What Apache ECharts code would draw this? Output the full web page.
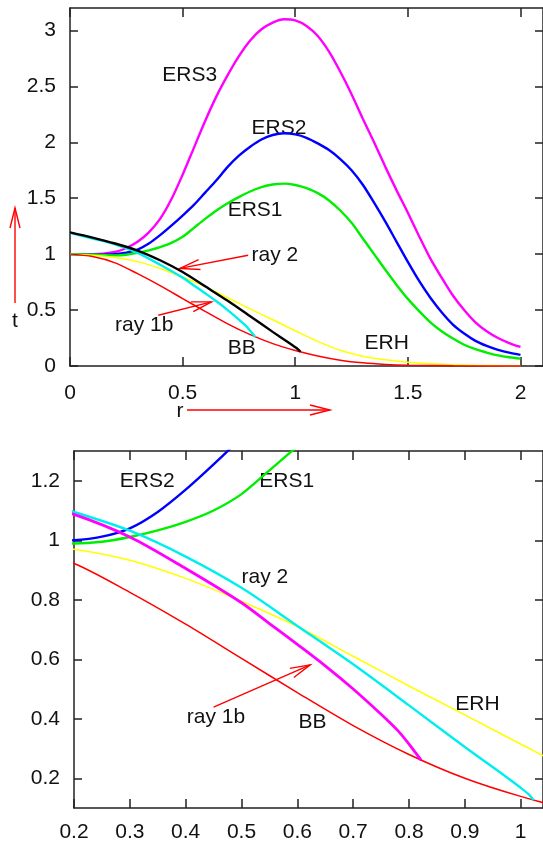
<!DOCTYPE html>
<html><head><meta charset="utf-8">
<script src="https://cdn.jsdelivr.net/npm/echarts@6/dist/echarts.min.js"></script>
<style>html,body{margin:0;padding:0;background:#fff}#c{width:543px;height:844px}</style>
</head><body><div id="c"></div>
<script>
// ---- data (r, t) ----
const ers3 = [[0,1.0],[0.1,1.0],[0.2,1.02],[0.25,1.055],[0.3,1.11],[0.35,1.195],[0.4,1.315],[0.45,1.49],[0.5,1.71],[0.55,1.95],[0.6,2.19],[0.65,2.41],[0.7,2.6],[0.75,2.77],[0.8,2.91],[0.85,3.01],[0.9,3.07],[0.95,3.1],[1.0,3.09],[1.05,3.04],[1.1,2.95],[1.15,2.81],[1.2,2.63],[1.25,2.43],[1.3,2.21],[1.35,2.0],[1.4,1.78],[1.45,1.57],[1.5,1.37],[1.55,1.16],[1.6,0.96],[1.65,0.79],[1.7,0.63],[1.75,0.5],[1.8,0.39],[1.85,0.31],[1.9,0.25],[1.95,0.205],[2.0,0.17]];
const ers2 = [[0,1.0],[0.1,0.995],[0.2,1.0],[0.25,1.012],[0.3,1.04],[0.35,1.095],[0.4,1.17],[0.45,1.255],[0.5,1.345],[0.55,1.44],[0.6,1.55],[0.65,1.66],[0.7,1.78],[0.75,1.88],[0.8,1.96],[0.85,2.025],[0.9,2.065],[0.95,2.08],[1.0,2.07],[1.05,2.04],[1.1,1.99],[1.15,1.93],[1.2,1.85],[1.25,1.75],[1.3,1.62],[1.35,1.46],[1.4,1.29],[1.45,1.11],[1.5,0.93],[1.55,0.76],[1.6,0.61],[1.65,0.48],[1.7,0.37],[1.75,0.29],[1.8,0.225],[1.85,0.18],[1.9,0.145],[1.95,0.12],[2.0,0.10]];
const ers1 = [[0,1.0],[0.1,0.995],[0.2,0.989],[0.25,0.995],[0.3,1.011],[0.35,1.033],[0.4,1.062],[0.45,1.10],[0.5,1.155],[0.55,1.235],[0.6,1.315],[0.65,1.39],[0.7,1.455],[0.75,1.51],[0.8,1.56],[0.85,1.598],[0.9,1.622],[0.95,1.63],[1.0,1.618],[1.05,1.59],[1.1,1.545],[1.15,1.48],[1.2,1.39],[1.25,1.28],[1.3,1.14],[1.35,1.0],[1.4,0.86],[1.45,0.725],[1.5,0.6],[1.55,0.49],[1.6,0.39],[1.65,0.31],[1.7,0.245],[1.75,0.19],[1.8,0.15],[1.85,0.12],[1.9,0.095],[1.95,0.078],[2.0,0.066]];
const erh = [[0,1.0],[0.1,0.99],[0.2,0.97],[0.3,0.933],[0.4,0.872],[0.5,0.795],[0.6,0.71],[0.7,0.61],[0.8,0.51],[0.9,0.413],[1.0,0.315],[1.1,0.22],[1.2,0.14],[1.3,0.088],[1.4,0.055],[1.5,0.034],[1.6,0.02],[1.7,0.012],[1.8,0.007],[1.9,0.004],[2.0,0.002]];
const bb = [[0,1.0],[0.1,0.978],[0.2,0.922],[0.3,0.825],[0.4,0.718],[0.5,0.603],[0.6,0.488],[0.7,0.377],[0.8,0.28],[0.9,0.2],[1.0,0.139],[1.1,0.09],[1.2,0.052],[1.3,0.028],[1.4,0.014],[1.5,0.007],[1.7,0.002],[2.0,0.0]];
const ray2 = [[0,1.195],[0.1,1.148],[0.2,1.095],[0.3,1.032],[0.4,0.945],[0.5,0.84],[0.6,0.712],[0.7,0.583],[0.8,0.445],[0.9,0.305],[0.97,0.21],[1.0,0.168],[1.015,0.145],[1.023,0.127]];
const ray1b = [[0,1.19],[0.1,1.14],[0.2,1.087],[0.3,1.011],[0.4,0.905],[0.5,0.79],[0.55,0.72],[0.6,0.65],[0.65,0.578],[0.7,0.5],[0.75,0.415],[0.78,0.36],[0.8,0.315],[0.812,0.285],[0.822,0.26]];

// tick values
const rTicksTop = [0,0.5,1,1.5,2];
const tTicksTop = [0,0.5,1,1.5,2,2.5,3];
const rTicksZoom = [0.2,0.3,0.4,0.5,0.6,0.7,0.8,0.9,1];
const tTicksZoom = [0.2,0.4,0.6,0.8,1,1.2];

const FONT = '"Liberation Sans", Arial, Helvetica, sans-serif';
const FS = 21;
const AX = '#222';

function mkX(grid, min, max, ticks, pos, showLabel, margin) {
  return {
    type:'value', gridIndex:grid, min:min, max:max, position:pos,
    axisLine:{show:true, onZero:false, lineStyle:{color:AX, width:1.5}},
    axisTick:{show:true, inside:true, length:9, customValues:ticks, lineStyle:{color:AX, width:1.5}},
    axisLabel:{show:showLabel, customValues:ticks, margin:margin, color:'#111', fontSize:FS, fontFamily:FONT},
    splitLine:{show:false}
  };
}
function mkY(grid, min, max, ticks, pos, showLabel) {
  return {
    type:'value', gridIndex:grid, min:min, max:max, position:pos,
    axisLine:{show:true, onZero:false, lineStyle:{color:AX, width:1.5}},
    axisTick:{show:true, inside:true, length:8, customValues:ticks, lineStyle:{color:AX, width:1.5}},
    axisLabel:{show:showLabel, customValues:ticks, margin:14, color:'#111', fontSize:FS, fontFamily:FONT},
    splitLine:{show:false}
  };
}
function line(name, data, color, width, xi, yi) {
  return {name:name, type:'line', data:data, xAxisIndex:xi, yAxisIndex:yi, showSymbol:false, symbol:'none',
    smooth:0.3, lineStyle:{color:color, width:width}, itemStyle:{color:color}, silent:true, animation:false, clip:true};
}

const chart = echarts.init(document.getElementById('c'), null, {renderer:'canvas'});
const option = {
  animation:false,
  backgroundColor:'#fff',
  grid:[
    {left:70, top:8, width:473, height:358},
    {left:74, top:451, width:469, height:357}
  ],
  xAxis:[
    mkX(0, 0, 2.1, rTicksTop, 'bottom', true, 17),
    mkX(0, 0, 2.1, rTicksTop, 'top', false, 13),
    mkX(1, 0.2, 1.04, rTicksZoom, 'bottom', true, 14),
    mkX(1, 0.2, 1.04, rTicksZoom, 'top', false, 13)
  ],
  yAxis:[
    mkY(0, 0, 3.2, tTicksTop, 'left', true),
    mkY(0, 0, 3.2, tTicksTop, 'right', false),
    mkY(1, 0.1, 1.3, tTicksZoom, 'left', true),
    mkY(1, 0.1, 1.3, tTicksZoom, 'right', false)
  ],
  series:[
    line('ERS3', ers3, '#ff00ff', 2.4, 0, 0),
    line('ERS2', ers2, '#0000ff', 2.4, 0, 0),
    line('ERS1', ers1, '#00ee00', 2.4, 0, 0),
    line('ERH', erh, '#ffff00', 1.5, 0, 0),
    line('BB', bb, '#ff0000', 1.5, 0, 0),
    line('ray 1b', ray1b, '#00eeee', 2.4, 0, 0),
    line('ray 2', ray2, '#000000', 2.4, 0, 0),
    line('ERS2', ers2, '#0000ff', 2.4, 2, 2),
    line('ERS1', ers1, '#00ee00', 2.4, 2, 2),
    line('ERH', erh, '#ffff00', 1.5, 2, 2),
    line('BB', bb, '#ff0000', 1.5, 2, 2),
    line('ray 2', ray2, '#00eeee', 2.4, 2, 2),
    line('ray 1b', ray1b, '#ff00ff', 2.8, 2, 2)
  ]
};
chart.setOption(option);

// ---- annotations ----
const notesTop = [['ERS3',0.41,2.6],['ERS2',0.806,2.13],['ERS1',0.70,1.395],['ray 2',0.806,0.99],['ray 1b',0.20,0.365],['BB',0.70,0.16],['ERH',1.308,0.203]];
const notesZoom = [['ERS2',0.282,1.198],['ERS1',0.532,1.198],['ray 2',0.50,0.876],['ray 1b',0.402,0.405],['BB',0.602,0.388],['ERH',0.883,0.45]];
const arrowsTop = [[[0.791,0.99],[0.488,0.873]],[[0.392,0.454],[0.628,0.573]]];
const arrowsZoom = [[[0.45,0.439],[0.623,0.581]]];

function arrowEls(x1,y1,x2,y2){
  const dx=x2-x1, dy=y2-y1, L=Math.sqrt(dx*dx+dy*dy), ux=dx/L, uy=dy/L, px=-uy, py=ux;
  const back=20, half=5;
  const a=[x2-ux*back+px*half, y2-uy*back+py*half], b=[x2-ux*back-px*half, y2-uy*back-py*half];
  return [
    {type:'line', shape:{x1:x1,y1:y1,x2:x2,y2:y2}, style:{stroke:'#ff0000', lineWidth:1.4}, silent:true},
    {type:'polyline', shape:{points:[a,[x2,y2],b]}, style:{stroke:'#ff0000', lineWidth:1.4, fill:null}, silent:true}
  ];
}
function txt(s,x,y,align){
  return {type:'text', x:x, y:y, style:{text:s, fill:'#111', font:FS+'px '+FONT, textAlign:align||'left', textVerticalAlign:'middle'}, silent:true};
}
const els = [];
notesTop.forEach(n=>{const p=chart.convertToPixel({seriesIndex:0},[n[1],n[2]]); els.push(txt(n[0],p[0],p[1]));});
notesZoom.forEach(n=>{const p=chart.convertToPixel({seriesIndex:7},[n[1],n[2]]); els.push(txt(n[0],p[0],p[1]));});
arrowsTop.forEach(a=>{const p=chart.convertToPixel({seriesIndex:0},a[0]), q=chart.convertToPixel({seriesIndex:0},a[1]); els.push(...arrowEls(p[0],p[1],q[0],q[1]));});
arrowsZoom.forEach(a=>{const p=chart.convertToPixel({seriesIndex:7},a[0]), q=chart.convertToPixel({seriesIndex:7},a[1]); els.push(...arrowEls(p[0],p[1],q[0],q[1]));});
// axis name arrows
els.push(txt('t',15,321,'center'));
els.push(...arrowEls(15,303,15,208));
els.push(txt('r',180,411,'center'));
els.push(...arrowEls(187,410,330,410));
chart.setOption({graphic:{elements:els}});
</script></body></html>
